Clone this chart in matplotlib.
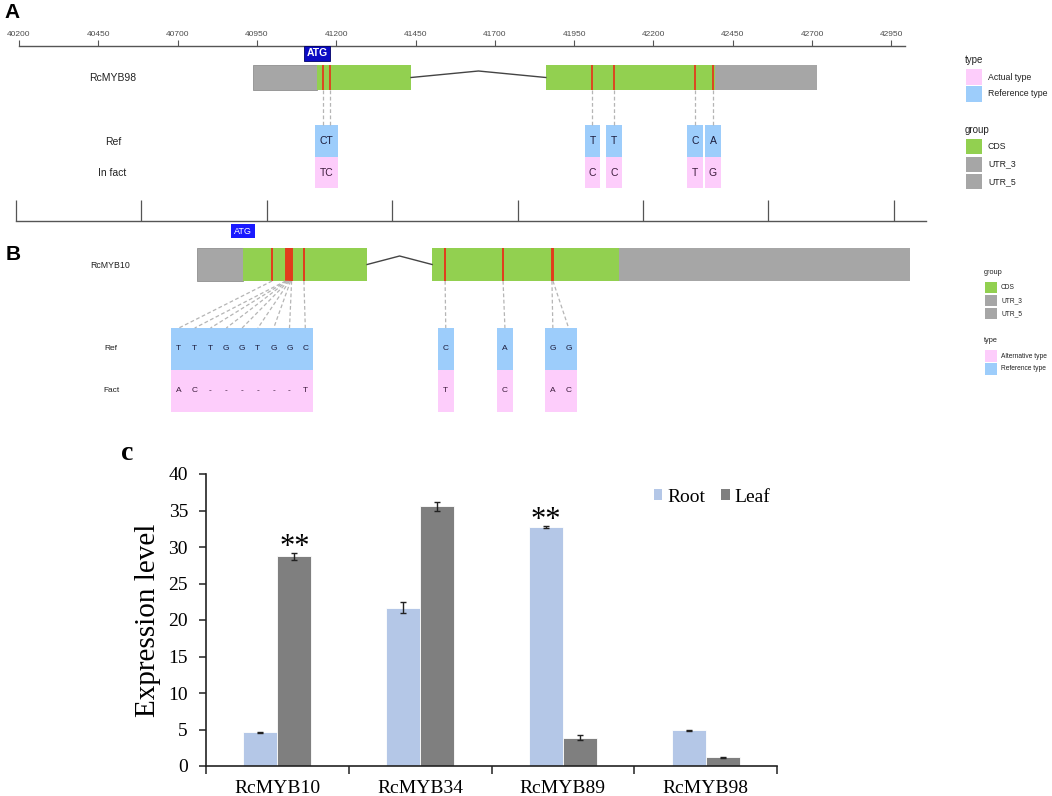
import matplotlib
matplotlib.use("Agg")
import matplotlib.pyplot as plt
from matplotlib.patches import Rectangle
import numpy as np

plt.rcParams['font.family'] = ['Liberation Sans', 'DejaVu Sans']

W, H = 1052, 796

# ---- panel A: RcMYB98 (genomic position, bp)
a_ticks = list(range(40200, 42951, 250))
a_utr5 = (40938, 41139)
a_exons = [(41139, 41436), (41861, 42394)]
a_utr3 = (42394, 42716)
a_atg = 41139
a_snps = [41158, 41180, 42006, 42076, 42331, 42388]
a_box_left = [41133, 41983, 42051, 42306, 42363]
a_box_width = [73, 50, 50, 50, 50]
a_box_snp = [[0, 1], [2], [3], [4], [5]]
a_ref = ["CT", "T", "T", "C", "A"]
a_fact = ["TC", "C", "C", "T", "G"]

# ---- panel B: RcMYB10 (relative position, bp)
b_ticks = list(range(0, 3501, 500))
b_utr5 = (722, 905)
b_exons = [(905, 1400), (1659, 2405)]
b_utr3 = (2405, 3565)
b_atg = 905
b_snps = [1021, 1075, 1079, 1083, 1087, 1091, 1095, 1099, 1148, 1711, 1942, 2137, 2141]
b_box_left = [618, 1682, 1918, 2109]
b_cell = 63
b_box_snp = [[0, 1, 2, 3, 4, 5, 6, 7, 8], [9], [10], [11, 12]]
b_ref = ["TTTGGTGGC", "C", "A", "GG"]
b_fact = ["AC------T", "T", "C", "AC"]

# ---- panel C: expression
genes = ["RcMYB10", "RcMYB34", "RcMYB89", "RcMYB98"]
root = [4.6, 21.7, 32.7, 4.9]
root_err = [0.05, 0.7, 0.15, 0.1]
leaf = [28.7, 35.6, 3.9, 1.2]
leaf_err = [0.45, 0.6, 0.4, 0.1]
signif = ["leaf", None, "root", None]

GREEN = '#92d050'
GREY = '#a6a6a6'
RED = '#e23b1c'
BLUE = '#9dcdfb'
PINK = '#fdcdfb'
DASH = '#b5b5b5'

fig = plt.figure(figsize=(W / 100, H / 100), dpi=100)


def gene_axes(x0_bp, bp_per_px, px0):
    ax = fig.add_axes([0, 0, 1, 1])
    ax.set_xlim(x0_bp - px0 * bp_per_px, x0_bp + (W - px0) * bp_per_px)
    ax.set_ylim(H, 0)
    ax.axis('off')
    return ax


def draw_gene(ax, utr5, exons, utr3, snps, top, h, peak, snp_lw):
    ax.add_patch(Rectangle((utr5[0], top), utr5[1] - utr5[0], h, fc=GREY, ec='#909090', lw=0.6))
    ax.add_patch(Rectangle((utr3[0], top), utr3[1] - utr3[0], h, fc=GREY, ec='none'))
    for s, e in exons:
        ax.add_patch(Rectangle((s, top), e - s, h, fc=GREEN, ec='none'))
    mid = top + h / 2
    for (s1, e1), (s2, e2) in zip(exons[:-1], exons[1:]):
        ax.plot([e1, (e1 + s2) / 2, s2], [mid, mid - peak, mid], color='#444444', lw=1)
    ax.vlines(snps, top, top + h, color=RED, lw=snp_lw)


# ================= panel A =================
axa = gene_axes(40200, 1 / 0.3172, 19)
axa.plot([40200, 42993], [46, 46], color='#555555', lw=1)
axa.vlines(a_ticks, 40, 46, color='#555555', lw=0.8)
for t in a_ticks:
    axa.text(t, 35, str(t), ha='center', va='center', fontsize=6, color='#4d4d4d')

draw_gene(axa, a_utr5, a_exons, a_utr3, a_snps, 65, 25, 6.5, 1.3)
axa.text(a_atg, 53.5, "ATG", ha='center', va='center', fontsize=7.5, fontweight='bold', color='white',
         bbox=dict(boxstyle='square,pad=0.25', fc='#0b0bc4', ec='#000066', lw=0.6))

for i in range(len(a_ref)):
    left, w = a_box_left[i], a_box_width[i]
    axa.add_patch(Rectangle((left, 125), w, 32, fc=BLUE, ec='none'))
    axa.add_patch(Rectangle((left, 157), w, 31, fc=PINK, ec='none'))
    axa.text(left + w / 2, 141, a_ref[i], ha='center', va='center', fontsize=7.5, color='#1c1c3c')
    axa.text(left + w / 2, 172.5, a_fact[i], ha='center', va='center', fontsize=7.5, color='#3c1c3c')
    for k in a_box_snp[i]:
        axa.plot([a_snps[k], a_snps[k]], [90, 125], color=DASH, lw=0.9, ls=(0, (3, 2)))

# ================= panel B =================
axb = gene_axes(0, 500 / 125.4, 16)
axb.plot([0, 3629], [221, 221], color='#555555', lw=1)
axb.vlines(b_ticks, 200, 221, color='#555555', lw=0.9)

draw_gene(axb, b_utr5, b_exons, b_utr3, b_snps, 248, 33, 8.5, 1.4)
axb.text(b_atg, 231, "ATG", ha='center', va='center', fontsize=6.5, color='white',
         bbox=dict(boxstyle='square,pad=0.3', fc='#1a1aff', ec='none'))

for i in range(len(b_ref)):
    left = b_box_left[i]
    n = len(b_ref[i])
    axb.add_patch(Rectangle((left, 328), n * b_cell, 42, fc=BLUE, ec='none'))
    axb.add_patch(Rectangle((left, 370), n * b_cell, 42, fc=PINK, ec='none'))
    for j in range(n):
        cx = left + (j + 0.5) * b_cell
        axb.text(cx, 349, b_ref[i][j], ha='center', va='center', fontsize=6, color='#1c1c3c')
        axb.text(cx, 391, b_fact[i][j], ha='center', va='center', fontsize=6, color='#3c1c3c')
        k = b_box_snp[i][j] if j < len(b_box_snp[i]) else None
        if k is not None:
            axb.plot([b_snps[k], cx], [281, 328], color=DASH, lw=0.9, ls=(0, (3, 2)))

# ================= overlay: labels and legends =================
ax0 = fig.add_axes([0, 0, 1, 1])
ax0.set_xlim(0, W)
ax0.set_ylim(H, 0)
ax0.axis('off')

ax0.text(12, 13, "A", ha='center', va='center', fontsize=15, fontweight='bold')
ax0.text(13, 255, "B", ha='center', va='center', fontsize=15, fontweight='bold')

ax0.text(113, 78, "RcMYB98", ha='center', va='center', fontsize=7.5, color='#222222')
ax0.text(113, 142, "Ref", ha='center', va='center', fontsize=7.5, color='#222222')
ax0.text(112, 173, "In fact", ha='center', va='center', fontsize=7.5, color='#222222')
ax0.text(110, 265, "RcMYB10", ha='center', va='center', fontsize=6.3, color='#222222')
ax0.text(111, 349, "Ref", ha='center', va='center', fontsize=6, color='#222222')
ax0.text(111, 391, "Fact", ha='center', va='center', fontsize=6, color='#222222')


def legend_block(x, y_title, title, labels, colors, sw, sh, step, fs_t, fs_l, gap):
    ax0.text(x - 1, y_title, title, ha='left', va='center', fontsize=fs_t, color='#222222')
    for i, (lab, c) in enumerate(zip(labels, colors)):
        y = y_title + 9 + i * step
        ax0.add_patch(Rectangle((x, y), sw, sh, fc=c, ec='none'))
        ax0.text(x + sw + gap, y + sh / 2, lab, ha='left', va='center', fontsize=fs_l, color='#222222')


legend_block(966, 60, "type", ["Actual type", "Reference type"], [PINK, BLUE], 16, 16, 17, 7, 6.3, 6)
legend_block(966, 130, "group", ["CDS", "UTR_3", "UTR_5"], [GREEN, GREY, GREY], 16, 15, 17.5, 7, 6.3, 6)
legend_block(985, 273, "group", ["CDS", "UTR_3", "UTR_5"], [GREEN, GREY, GREY], 12, 11, 13, 5.3, 4.8, 4)
legend_block(985, 341, "type", ["Alternative type", "Reference type"], [PINK, BLUE], 12, 12, 13, 5.3, 4.8, 4)

ax0.text(127, 453, "c", ha='center', va='center', fontsize=20, fontweight='bold', family='Liberation Serif')
ax0.text(148, 620, "Expression level", ha='center', va='center', rotation=90, fontsize=21,
         family='Liberation Serif')

# ================= panel C =================
axc = fig.add_axes([206 / W, 1 - 766 / H, 571 / W, 292 / H])
x = np.arange(len(genes))
bw = 0.238
axc.bar(x - bw / 2, root, bw, color='#b4c7e7', edgecolor='white', lw=0.6, label='Root')
axc.bar(x + bw / 2, leaf, bw, color='#7f7f7f', edgecolor='white', lw=0.6, label='Leaf')
axc.errorbar(x - bw / 2, root, yerr=root_err, fmt='none', ecolor='#222222', elinewidth=1, capsize=2.5, capthick=1)
axc.errorbar(x + bw / 2, leaf, yerr=leaf_err, fmt='none', ecolor='#222222', elinewidth=1, capsize=2.5, capthick=1)
for i, s in enumerate(signif):
    if s == 'leaf':
        axc.text(x[i] + bw / 2, leaf[i] + leaf_err[i] - 1.2, "**", ha='center', va='bottom', fontsize=22,
                 family='Liberation Serif')
    elif s == 'root':
        axc.text(x[i] - bw / 2, root[i] + root_err[i] - 1.2, "**", ha='center', va='bottom', fontsize=22,
                 family='Liberation Serif')

axc.set_xlim(-0.5, 3.5)
axc.set_ylim(0, 40)
axc.set_yticks(range(0, 41, 5))
axc.set_xticks(x)
axc.set_xticklabels(genes)
axc.set_xticks(np.arange(-0.5, 3.6, 1), minor=True)
axc.tick_params(axis='x', which='major', length=0, pad=10)
axc.tick_params(axis='x', which='minor', length=6, width=1.1, direction='out', color='#222222')
axc.tick_params(axis='y', length=5, width=1.1, direction='out', pad=8, color='#222222')
for lab in axc.get_xticklabels() + axc.get_yticklabels():
    lab.set_family('Liberation Serif')
    lab.set_fontsize(14)
for sp in ['top', 'right']:
    axc.spines[sp].set_visible(False)
for sp in ['left', 'bottom']:
    axc.spines[sp].set_color('#222222')
    axc.spines[sp].set_linewidth(1.2)

handles = [Rectangle((0, 0), 1, 1, fc='#b4c7e7'), Rectangle((0, 0), 1, 1, fc='#7f7f7f')]
fig.legend(handles, ['Root', 'Leaf'], loc='center', bbox_to_anchor=(712 / W, 1 - 497 / H), ncol=2,
           frameon=False, handlelength=0.45, handleheight=0.45, handletextpad=0.25, columnspacing=0.8,
           prop={'family': 'Liberation Serif', 'size': 14})

fig.savefig("out.png", dpi=100)
